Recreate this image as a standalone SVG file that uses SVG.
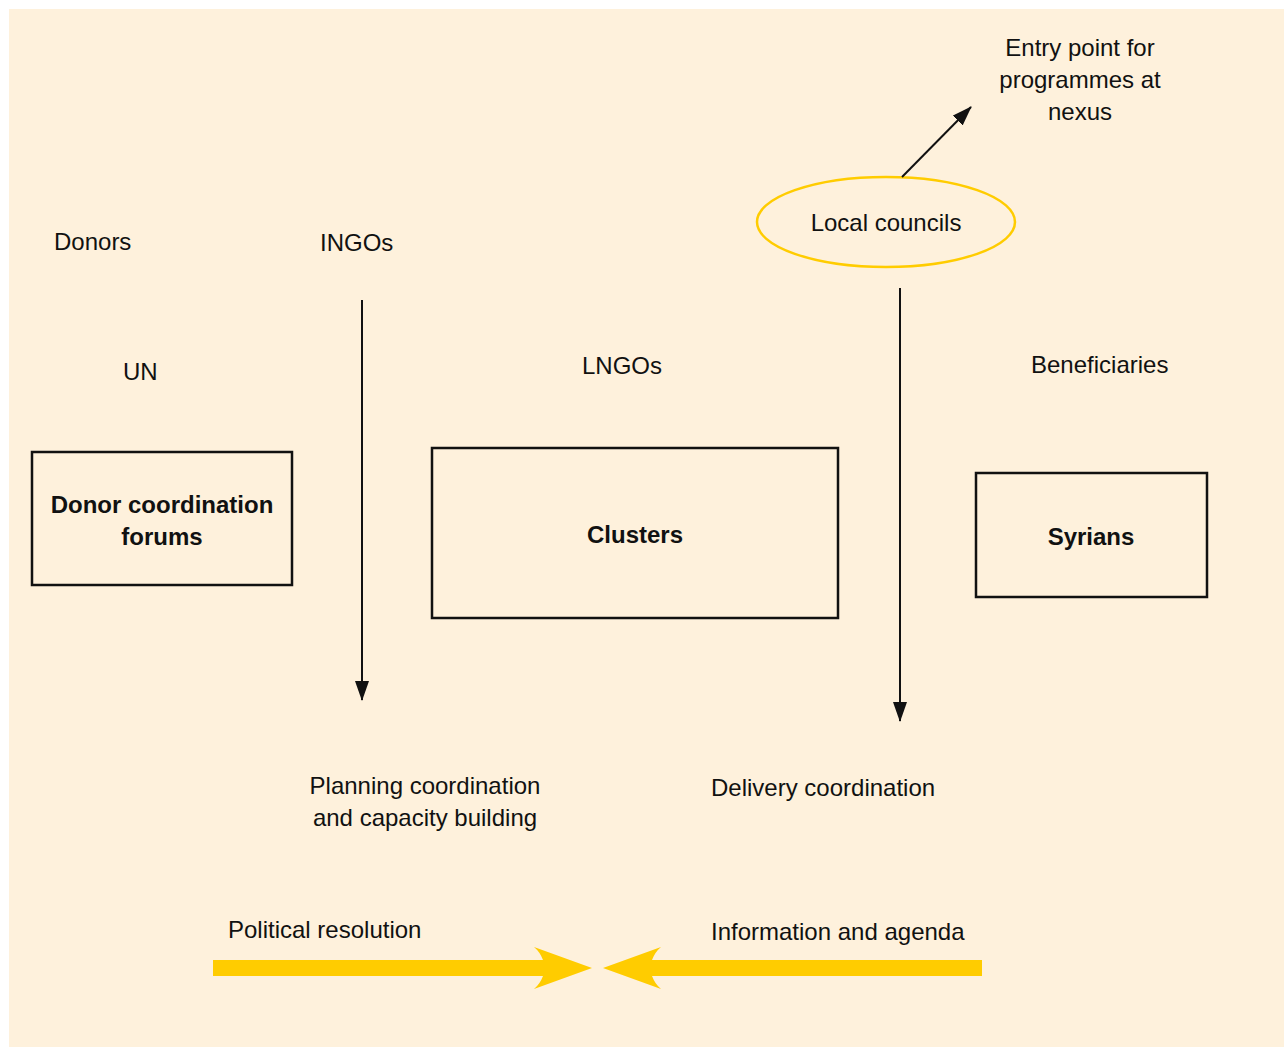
<svg xmlns="http://www.w3.org/2000/svg" width="1284" height="1047" viewBox="0 0 1284 1047">
<style>
.t{font-family:"Liberation Sans",Arial,sans-serif;font-size:24px;fill:#111}
.b{font-family:"Liberation Sans",Arial,sans-serif;font-size:24px;font-weight:bold;fill:#111}
.box{fill:none;stroke:#111;stroke-width:2.5}
.ln{stroke:#111;stroke-width:2;fill:none}
.yel{fill:#FFCC00}
</style>
<defs>
<marker id="ah" viewBox="0 0 20 14" refX="19" refY="7" markerWidth="20" markerHeight="14" markerUnits="userSpaceOnUse" orient="auto">
<path d="M0 0 L20 7 L0 14 Z" fill="#111"/>
</marker>
</defs>
<rect x="0" y="0" width="1284" height="1047" fill="#fff"/>
<rect x="9" y="9" width="1275" height="1038" fill="#FEF1DC"/>
<g id="labels">
<text class="t" x="54" y="250">Donors</text>
<text class="t" x="320" y="251">INGOs</text>
<text class="t" x="123" y="380">UN</text>
<text class="t" x="582" y="374">LNGOs</text>
<text class="t" x="1031" y="373">Beneficiaries</text>
<text class="t" x="1080" y="56" text-anchor="middle">Entry point for</text>
<text class="t" x="1080" y="88" text-anchor="middle">programmes at</text>
<text class="t" x="1080" y="120" text-anchor="middle">nexus</text>
<text class="t" x="425" y="794" text-anchor="middle">Planning coordination</text>
<text class="t" x="425" y="826" text-anchor="middle">and capacity building</text>
<text class="t" x="711" y="796">Delivery coordination</text>
<text class="t" x="228" y="938">Political resolution</text>
<text class="t" x="711" y="940">Information and agenda</text>
</g>
<g id="donor-forums">
<rect class="box" x="32" y="452" width="260" height="133"/>
<text class="b" x="162" y="513" text-anchor="middle">Donor coordination</text>
<text class="b" x="162" y="545" text-anchor="middle">forums</text>
</g>
<g id="clusters">
<rect class="box" x="432" y="448" width="406" height="170"/>
<text class="b" x="635" y="543" text-anchor="middle">Clusters</text>
</g>
<g id="syrians">
<rect class="box" x="976" y="473" width="231" height="124"/>
<text class="b" x="1091" y="545" text-anchor="middle">Syrians</text>
</g>
<g id="local-councils">
<ellipse cx="886" cy="222" rx="129" ry="45" fill="none" stroke="#FFCC00" stroke-width="2.5"/>
<text class="t" x="886" y="231" text-anchor="middle">Local councils</text>
</g>
<g id="connectors">
<line class="ln" x1="362" y1="300" x2="362" y2="700" marker-end="url(#ah)"/>
<line class="ln" x1="900" y1="288" x2="900" y2="721" marker-end="url(#ah)"/>
<line class="ln" x1="902" y1="177" x2="971" y2="107" marker-end="url(#ah)"/>
<path class="yel" d="M213 960 L543 960 Q540 952 534 947 L592 968 L534 989 Q540 984 543 976 L213 976 Z"/>
<path class="yel" d="M982 960 L652 960 Q655 952 661 947 L603 968 L661 989 Q655 984 652 976 L982 976 Z"/>
</g>
</svg>
